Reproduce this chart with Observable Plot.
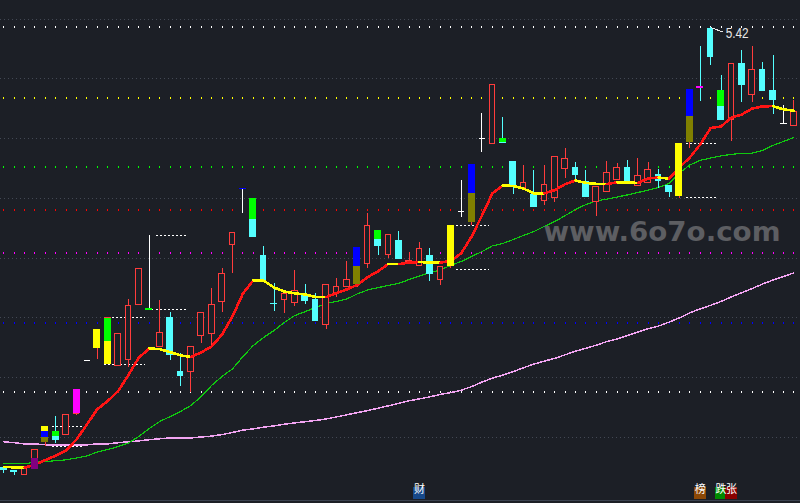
<!DOCTYPE html>
<html>
<head>
<meta charset="utf-8">
<script src="https://cdn.jsdelivr.net/npm/d3@7"></script>
<script src="https://cdn.jsdelivr.net/npm/@observablehq/plot@0.6"></script>
<style>
  html, body { margin: 0; padding: 0; background: #1c1f26; overflow: hidden; }
  #chart svg { display: block; }
</style>
</head>
<body>
<div id="chart"></div>
<script>
// ---- daily bars (price, yuan) ----
const opens = [3.953,3.943,3.928,3.947,4.037,4.073,4.062,4.132,4.309,4.351,
  4.297,4.291,4.312,4.496,4.479,4.354,4.451,4.273,4.271,4.392,
  4.399,4.506,4.696,4.882,4.85,4.657,4.5,4.512,4.501,4.524,
  4.513,4.429,4.532,4.554,4.564,4.632,4.743,4.662,4.71,4.638,
  4.624,4.66,4.577,4.624,4.807,4.771,5.049,5.032,5.05,4.973,
  4.884,4.863,4.842,4.852,4.949,4.953,4.904,4.84,4.872,4.912,
  4.952,4.892,4.902,4.93,4.893,4.858,5.038,5.223,5.416,5.21,
  5.112,5.299,5.196,5.277,5.21,5.099,5.091];
const highs = [3.953,3.943,3.947,4.013,4.09,4.123,4.127,4.213,4.309,4.413,
  4.451,4.399,4.513,4.616,4.727,4.51,4.47,4.332,4.356,4.469,
  4.549,4.617,4.736,4.882,4.85,4.69,4.566,4.532,4.61,4.562,
  4.532,4.562,4.583,4.64,4.686,4.8,4.743,4.727,4.74,4.671,
  4.704,4.682,4.623,4.76,4.91,4.963,5.134,5.23,5.121,4.973,
  4.96,4.943,4.959,4.989,5.017,4.97,4.943,4.89,4.973,4.966,
  4.977,4.983,4.969,4.947,4.893,5.033,5.212,5.357,5.42,5.26,
  5.299,5.343,5.357,5.302,5.327,5.16,5.177];
const lows = [3.932,3.927,3.928,3.947,4.024,4.034,4.062,4.128,4.309,4.314,
  4.297,4.291,4.288,4.496,4.479,4.354,4.309,4.224,4.204,4.368,
  4.351,4.471,4.601,4.801,4.721,4.576,4.474,4.466,4.49,4.497,
  4.44,4.414,4.521,4.554,4.554,4.616,4.66,4.649,4.647,4.632,
  4.624,4.574,4.56,4.616,4.788,4.76,5.004,5.032,5.036,4.863,
  4.884,4.821,4.828,4.836,4.917,4.907,4.854,4.791,4.872,4.912,
  4.901,4.892,4.902,4.884,4.854,4.85,5.016,5.174,5.293,5.113,
  5.041,5.171,5.171,5.21,5.13,5.096,5.091];
const closes = [3.945,3.937,3.947,4.013,4.09,4.045,4.127,4.213,4.309,4.413,
  4.451,4.399,4.492,4.616,4.479,4.403,4.328,4.258,4.356,4.469,
  4.496,4.599,4.736,4.882,4.721,4.576,4.497,4.532,4.543,4.508,
  4.443,4.562,4.556,4.579,4.686,4.759,4.691,4.727,4.647,4.643,
  4.682,4.599,4.623,4.76,4.807,4.963,5.049,5.23,5.036,4.891,
  4.903,4.821,4.896,4.989,4.982,4.928,4.854,4.89,4.936,4.952,
  4.901,4.926,4.946,4.908,4.871,5.033,5.212,5.218,5.321,5.113,
  5.299,5.227,5.277,5.21,5.18,5.099,5.138];

// ---- moving averages ----
const maShort = [3.955,3.954,3.953,3.963,3.978,3.993,4.01,4.047,4.097,4.148,
  4.175,4.208,4.262,4.32,4.35,4.348,4.338,4.327,4.322,4.337,
  4.357,4.397,4.457,4.533,4.577,4.576,4.553,4.54,4.534,4.53,
  4.522,4.521,4.535,4.547,4.562,4.588,4.607,4.632,4.631,4.637,
  4.638,4.637,4.636,4.642,4.667,4.723,4.793,4.867,4.893,4.892,
  4.883,4.867,4.867,4.878,4.898,4.91,4.902,4.899,4.898,4.904,
  4.903,4.902,4.917,4.92,4.916,4.953,4.987,5.03,5.085,5.09,
  5.12,5.13,5.15,5.157,5.158,5.147,5.143];
const maMid = [3.966,3.966,3.966,3.971,3.973,3.976,3.979,3.985,3.992,4.005,
  4.013,4.023,4.035,4.057,4.083,4.107,4.123,4.14,4.16,4.19,
  4.227,4.257,4.282,4.323,4.36,4.387,4.41,4.437,4.46,4.473,
  4.487,4.5,4.507,4.515,4.532,4.545,4.553,4.56,4.567,4.58,
  4.592,4.603,4.612,4.627,4.64,4.657,4.673,4.692,4.7,4.713,
  4.727,4.74,4.757,4.773,4.793,4.813,4.83,4.842,4.848,4.855,
  4.862,4.87,4.878,4.887,4.9,4.935,4.962,4.977,4.985,4.992,
  4.997,5.001,5.001,5.01,5.027,5.04,5.053];
const maLong = [4.039,4.036,4.032,4.032,4.029,4.029,4.029,4.029,4.029,4.032,
  4.032,4.036,4.039,4.042,4.046,4.049,4.052,4.052,4.052,4.055,
  4.058,4.063,4.07,4.078,4.082,4.088,4.092,4.098,4.102,4.106,
  4.11,4.115,4.122,4.129,4.136,4.143,4.151,4.159,4.167,4.176,
  4.182,4.189,4.197,4.203,4.211,4.223,4.238,4.251,4.261,4.273,
  4.286,4.298,4.308,4.317,4.329,4.341,4.351,4.361,4.373,4.382,
  4.393,4.405,4.416,4.425,4.438,4.452,4.469,4.482,4.494,4.507,
  4.522,4.536,4.55,4.565,4.578,4.59,4.602];

// ---- horizontal reference prices ----
const gridPrices = [5.447, 5.25, 5.05, 4.85, 4.65, 4.453, 4.253, 4.053];
const levelPrices = [5.42, 5.184, 4.954, 4.81, 4.668, 4.434, 4.204];
const levelKinds = ["top", "r191", "r382", "r500", "r618", "r809", "base"];

// ---- signal bars painted over candle bodies ----
const sigIndex  = [3, 4, 4, 4, 5, 7, 9, 10, 10, 14, 23, 24, 34, 34, 36, 43, 45, 45, 48, 65, 66, 66, 67, 69];
const sigTop    = [3.982, 4.09, 4.073, 4.053, 4.073, 4.213, 4.413, 4.451, 4.373, 4.482, 4.885, 4.85, 4.686, 4.623, 4.743, 4.76, 4.963, 4.867, 5.05, 5.033, 5.212, 5.124, 5.224, 5.21];
const sigBottom = [3.947, 4.073, 4.053, 4.037, 4.057, 4.132, 4.351, 4.373, 4.297, 4.476, 4.879, 4.78, 4.623, 4.564, 4.713, 4.624, 4.867, 4.771, 5.036, 4.858, 5.124, 5.038, 5.217, 5.157];
const sigKind   = ["base", "strong", "buy", "hold", "rise", "spike", "strong", "rise", "strong", "rise", "buy", "rise", "buy", "hold", "rise", "strong", "buy", "hold", "rise", "strong", "buy", "hold", "spike", "rise"];

// ---- breakout ranges carried forward (candle index span, high, low) ----
const boxFrom = [4.6, 9.6, 14.6, 43.55, 65.6];
const boxTo   = [7.7, 13.6, 17.7, 46.7, 68.7];
const boxHigh = [4.09, 4.452, 4.727, 4.76, 5.032];
const boxLow  = [4.022, 4.296, 4.479, 4.612, 4.852];

// ---- event flags under the bars ----
const flagIndex = [40, 67, 69, 70];
const flagText  = ["财", "榜", "跌", "张"];
const flagKind  = ["finance", "list", "down", "up"];

// ---- styling ----
const BG = "#1c1f26";
const RED = "#ff3c3c", CYAN = "#54ffff", WHITE = "#ffffff";
const levelColor = {top: "#ffffff", r191: "#ffff00", r382: "#00ff00", r500: "#ff0000", r618: "#ff00ff", r809: "#0000ff", base: "#ffffff"};
const sigColor = {strong: "#ffff00", buy: "#0000ff", hold: "#808000", rise: "#00ff00", spike: "#ff00ff", base: "#800080"};
const flagColor = {finance: "#17498a", list: "#8c4806", down: "#008a00", up: "#8a0000"};

const candles = opens.map((o, i) => ({i, o, h: highs[i], l: lows[i], c: closes[i]}));
const dirColor = d => d.c > d.o ? RED : d.c < d.o ? CYAN : WHITE;
const upBars = candles.filter(d => d.c > d.o);
const downBars = candles.filter(d => d.c < d.o);
const flatBars = candles.filter(d => d.c === d.o);

const levelTicks = levelPrices.flatMap((p, k) => candles.map(d => ({i: d.i, p, kind: levelKinds[k]})));
const signals = sigIndex.map((i, k) => ({i, top: sigTop[k], bottom: sigBottom[k], kind: sigKind[k]}));
const boxes = boxFrom.flatMap((a, k) => [
  {a, b: boxTo[k], p: boxHigh[k]},
  {a, b: boxTo[k], p: boxLow[k]}
]);
const maShortSegs = maShort.slice(0, -1).map((v, i) => ({i, a: v, b: maShort[i + 1]}));
const flags = flagIndex.map((i, k) => ({i, t: flagText[k], kind: flagKind[k]}));
const peakIdx = d3.maxIndex(highs);
const peak = [{i: peakIdx, p: highs[peakIdx]}];

// price per pixel: 0.01 yuan per 3 px, 5.51 at the top edge
const H = 503, W = 800;
const yTop = 5.51, yBottom = yTop - H / 300;
const xLeft = -0.3175, xRight = 76.644;

const chart = Plot.plot({
  width: W,
  height: H,
  margin: 0,
  x: {domain: [xLeft, xRight], axis: null},
  y: {domain: [yBottom, yTop], axis: null},
  color: {type: "identity"},
  style: {background: BG, overflow: "hidden"},
  marks: [
    // faint dotted grid
    Plot.ruleY(gridPrices, {stroke: "#434854", strokeDasharray: "1,3"}),
    // level ticks at every bar
    Plot.ruleX(levelTicks, {x: "i", y1: d => d.p - 0.0035, y2: d => d.p + 0.0035, stroke: d => levelColor[d.kind], strokeWidth: 1}),
    // long and medium moving averages
    Plot.line(maLong, {x: (d, i) => i, y: d => d, stroke: "#f2a4f2", strokeWidth: 1.5}),
    Plot.line(maMid, {x: (d, i) => i, y: d => d, stroke: "#10c810", strokeWidth: 1.2}),
    // breakout range lines
    Plot.link(boxes, {x1: "a", x2: "b", y1: "p", y2: "p", stroke: WHITE, strokeDasharray: "2,2"}),
    // wicks
    Plot.ruleX(candles, {x: "i", y1: "l", y2: "h", stroke: dirColor, strokeWidth: 1}),
    // bodies
    Plot.rect(upBars, {x1: d => d.i - 0.27, x2: d => d.i + 0.27, y1: "o", y2: "c", fill: BG, stroke: RED, strokeWidth: 1}),
    Plot.rect(downBars, {x1: d => d.i - 0.27, x2: d => d.i + 0.27, y1: "o", y2: "c", fill: CYAN, stroke: CYAN, strokeWidth: 1}),
    Plot.link(flatBars, {x1: d => d.i - 0.32, x2: d => d.i + 0.32, y1: "o", y2: "o", stroke: WHITE}),
    // short moving average: red while rising, yellow otherwise
    Plot.link(maShortSegs, {x1: "i", x2: d => d.i + 1, y1: "a", y2: "b", stroke: d => d.b > d.a ? "#ff1414" : "#ffff00", strokeWidth: 2.6, strokeLinecap: "round"}),
    // signal bars
    Plot.rect(signals, {x1: d => d.i - 0.335, x2: d => d.i + 0.335, y1: "top", y2: "bottom", fill: d => sigColor[d.kind]}),
    // peak annotation
    Plot.link(peak, {x1: "i", y1: "p", x2: d => d.i + 1.2, y2: d => d.p - 0.015, stroke: "#e8e8e8", strokeWidth: 1}),
    Plot.text(peak, {x: "i", y: "p", text: d => d.p.toFixed(2), dx: 15, dy: 6, textAnchor: "start", fill: "#e8e8e8", fontSize: 14, fontFamily: "Liberation Sans", className: "peak-label"}),
    // watermark
    Plot.text(["www.6o7o.com"], {frameAnchor: "top-left", dx: 543, dy: 240, textAnchor: "start", lineAnchor: "bottom", fontSize: 26, fontWeight: "bold", fontFamily: "DejaVu Sans", fill: "#5d5e62", className: "wm"}),
    // event flags
    Plot.rect(flags, {x1: d => d.i - 0.58, x2: d => d.i + 0.58, insetTop: 486.5, insetBottom: 4.5, fill: d => flagColor[d.kind]}),
    Plot.text(flags, {x: "i", text: "t", frameAnchor: "bottom", dy: -10.5, fill: WHITE, fontSize: 11, fontFamily: "Noto Sans CJK SC"}),
    // bottom border
    Plot.rect([0], {insetTop: 500, insetBottom: 2, fill: "#3b4250"})
  ]
});

chart.setAttribute("shape-rendering", "crispEdges");
const wm = chart.querySelector(".wm text");
if (wm) { wm.setAttribute("textLength", 237); wm.setAttribute("lengthAdjust", "spacingAndGlyphs"); }
const pl = chart.querySelector(".peak-label text");
if (pl) { pl.setAttribute("textLength", 23); pl.setAttribute("lengthAdjust", "spacingAndGlyphs"); }
document.getElementById("chart").append(chart);
</script>
</body>
</html>
